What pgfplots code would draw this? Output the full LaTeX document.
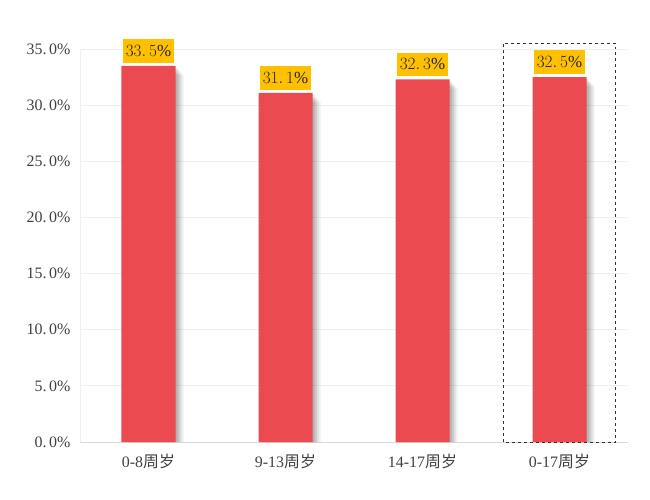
\documentclass[border=0pt]{standalone}
\usepackage{fontspec}
\setmainfont{Liberation Serif}
\newfontfamily\cjk{Noto Sans CJK SC}
\usepackage{pgfplots}
\pgfplotsset{compat=1.18}
\definecolor{barred}{HTML}{EB4A50}
\definecolor{lblyellow}{HTML}{FFC000}
\definecolor{gridgray}{HTML}{F0F0F0}
\definecolor{axgray}{HTML}{D9D9D9}
\definecolor{txtgray}{HTML}{404040}
\definecolor{lbltxt}{HTML}{262626}
\begin{document}
\begin{tikzpicture}
\begin{axis}[
  scale only axis,
  width=548bp, height=393bp,
  xmin=-0.5, xmax=3.5,
  ymin=0, ymax=35,
  xtick={0,1,2,3},
  xticklabels={0-8{\cjk 周岁},9-13{\cjk 周岁},14-17{\cjk 周岁},0-17{\cjk 周岁}},
  ytick={0,5,10,15,20,25,30,35},
  yticklabels={0.\,0\%,5.\,0\%,10.\,0\%,15.\,0\%,20.\,0\%,25.\,0\%,30.\,0\%,35.\,0\%},
  ymajorgrids,
  grid style={gridgray, line width=0.8bp},
  axis x line*=bottom,
  axis y line*=left,
  x axis line style={axgray, line width=1bp, -},
  y axis line style={gridgray, line width=0.8bp, -},
  major tick length=0pt,
  tick label style={font=\fontsize{16}{18}\selectfont, text=txtgray},
  xticklabel style={yshift=-9bp},
  yticklabel style={xshift=-6bp},
  clip=false,
  ybar,
  bar width=54bp,
]
\addplot[fill=black, draw=none, opacity=0.10, bar shift=2bp, forget plot] coordinates {(0,33.3) (1,30.9) (2,32.1) (3,32.3)};
\addplot[fill=black, draw=none, opacity=0.10, bar shift=4bp, forget plot] coordinates {(0,33.1) (1,30.7) (2,31.9) (3,32.1)};
\addplot[fill=black, draw=none, opacity=0.08, bar shift=6bp, forget plot] coordinates {(0,32.9) (1,30.5) (2,31.7) (3,31.9)};
\addplot[fill=black, draw=none, opacity=0.06, bar shift=8bp, forget plot] coordinates {(0,32.7) (1,30.3) (2,31.5) (3,31.7)};
\addplot[fill=barred, draw=none, bar shift=0pt,
  nodes near coords={\pgfmathprintnumber[fixed,fixed zerofill,precision=1,dec sep={.\,}]{\pgfplotspointmeta}\%},
  every node near coord/.append style={fill=lblyellow, text=lbltxt, font=\fontsize{17}{19}\selectfont, inner xsep=3bp, inner ysep=6bp, yshift=3bp, anchor=south},
] coordinates {(0,33.5) (1,31.1) (2,32.3) (3,32.5)};
\draw[dashed, black!80, line width=0.8bp] (axis cs:2.59,0) rectangle (axis cs:3.41,35.5);
\end{axis}
\useasboundingbox (-80bp,-58bp) rectangle (570bp,442bp);
\end{tikzpicture}
\end{document}
